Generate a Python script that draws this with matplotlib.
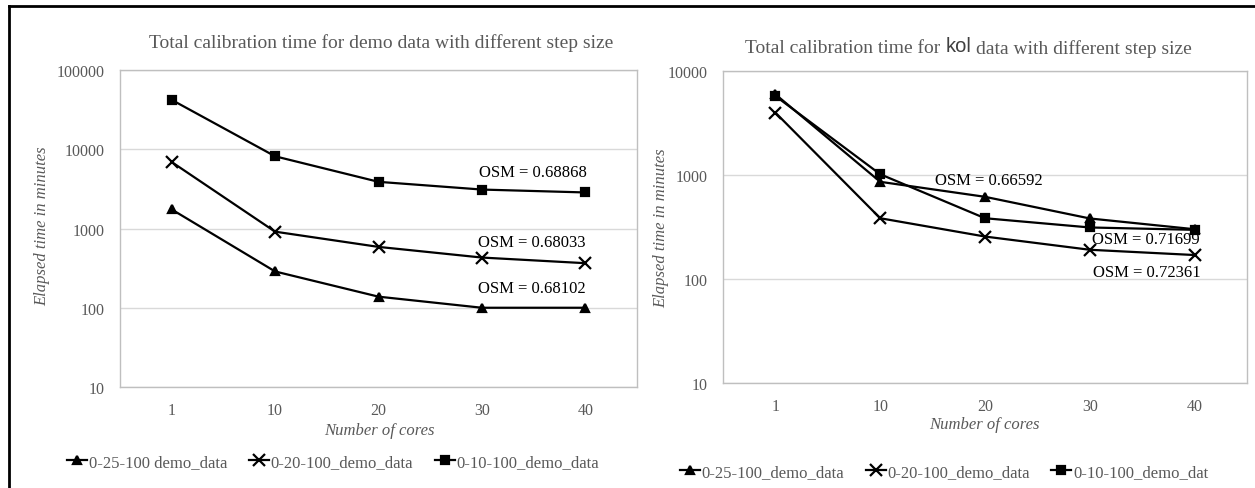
import numpy as np
import matplotlib
matplotlib.use('Agg')
import matplotlib.pyplot as plt
from matplotlib.lines import Line2D

# data (log scale, minutes)
cores = ['1', '10', '20', '30', '40']

demo_tri = [1740, 287, 138, 100, 100]
demo_x = [6900, 912, 586, 430, 365]
demo_sq = [42000, 8150, 3880, 3100, 2850]

kol_tri = [5970, 860, 617, 382, 301]
kol_x = [3980, 384, 256, 191, 170]
kol_sq = [5750, 1017, 384, 313, 297]

demo_osm = ['OSM = 0.68868', 'OSM = 0.68033', 'OSM = 0.68102']
kol_osm = ['OSM = 0.66592', 'OSM = 0.71699', 'OSM = 0.72361']

left_labels = ['0-25-100 demo_data', '0-20-100_demo_data', '0-10-100_demo_data']
right_labels = ['0-25-100_demo_data', '0-20-100_demo_data', '0-10-100_demo_dat']

W, H = 1255, 489
plt.rcParams['font.family'] = ['Liberation Serif', 'DejaVu Serif']
grey = '#595959'

fig = plt.figure(figsize=(W / 100, H / 100), dpi=100)


def box(x0, x1, top, bottom):
    return [x0 / W, 1 - bottom / H, (x1 - x0) / W, (bottom - top) / H]


def draw(ax, series, ylim, ticks):
    xs = np.arange(len(cores))
    styles = [('^', 6), ('x', 8), ('s', 5.5)]
    for vals, (m, ms) in zip(series, styles):
        ax.plot(xs, vals, color='black', lw=1.6, marker=m, ms=ms, mew=1.6)
    ax.set_yscale('log')
    ax.set_ylim(*ylim)
    ax.set_xlim(-0.5, len(cores) - 0.5)
    ax.set_yticks(ticks)
    ax.set_yticklabels([str(t) for t in ticks])
    ax.yaxis.set_minor_locator(matplotlib.ticker.NullLocator())
    ax.set_xticks(xs)
    ax.set_xticklabels(cores)
    ax.tick_params(length=0, labelsize=11.5, colors=grey, pad=11)
    ax.grid(axis='y', color='#d9d9d9', lw=1)
    for s in ax.spines.values():
        s.set_color('#bfbfbf')
        s.set_linewidth(1)
    ax.set_axisbelow(True)


ax1 = fig.add_axes(box(120, 637, 71, 388))
draw(ax1, [demo_tri, demo_x, demo_sq], (10, 100000), [10, 100, 1000, 10000, 100000])
ax2 = fig.add_axes(box(723, 1247, 72, 384))
draw(ax2, [kol_tri, kol_x, kol_sq], (10, 10000), [10, 100, 1000, 10000])

# OSM notes
for txt, (x, y) in zip(demo_osm, [(0.799, 0.678), (0.797, 0.457), (0.797, 0.312)]):
    ax1.text(x, y, txt, transform=ax1.transAxes, ha='center', va='center', fontsize=12)
for txt, (x, y) in zip(kol_osm, [(0.508, 0.651), (0.807, 0.462), (0.809, 0.356)]):
    ax2.text(x, y, txt, transform=ax2.transAxes, ha='center', va='center', fontsize=12)

# titles
fig.text(381 / W, 1 - 43 / H, 'Total calibration time for demo data with different step size',
         ha='center', va='center', fontsize=14, color=grey)
t1 = fig.text(745 / W, 1 - 49 / H, 'Total calibration time for ', ha='left', va='center',
              fontsize=14, color=grey)
fig.canvas.draw()
bb = t1.get_window_extent()
t2 = fig.text((bb.x1 + 1) / W, (bb.y0 + 1) / H, 'kol', ha='left', va='bottom',
              fontsize=14.5, color='#404040', family='Liberation Sans')
fig.canvas.draw()
bb2 = t2.get_window_extent()
fig.text((bb2.x1 + 4) / W, bb.y0 / H, 'data with different step size', ha='left', va='bottom',
         fontsize=14, color=grey)

# axis labels
for x, y in [(379, 431), (984, 425)]:
    fig.text(x / W, 1 - y / H, 'Number of cores', ha='center', va='center',
             fontsize=12, color=grey, style='italic')
for x, y in [(42, 226), (661, 228)]:
    fig.text(x / W, 1 - y / H, 'Elapsed time in minutes', ha='center', va='center',
             fontsize=12, color=grey, style='italic', rotation=90)

# legends
handles = [Line2D([], [], color='black', lw=1.6, marker=m, ms=ms, mew=1.6)
           for m, ms in [('^', 6), ('x', 8), ('s', 5.5)]]
for labels, (x, y) in [(left_labels, (333, 463)), (right_labels, (944, 473))]:
    fig.legend(handles, labels, loc='center', bbox_to_anchor=(x / W, 1 - y / H), ncol=3,
               frameon=False, fontsize=12, handlelength=1.2, handletextpad=0.1,
               columnspacing=1.3, labelcolor=grey)

# outer black border (top and left)
fig.add_artist(Line2D([9 / W, 1], [1 - 7 / H, 1 - 7 / H], color='black', lw=2, transform=fig.transFigure))
fig.add_artist(Line2D([9 / W, 9 / W], [0, 1 - 7 / H], color='black', lw=2, transform=fig.transFigure))

fig.savefig('out.png', dpi=100)
